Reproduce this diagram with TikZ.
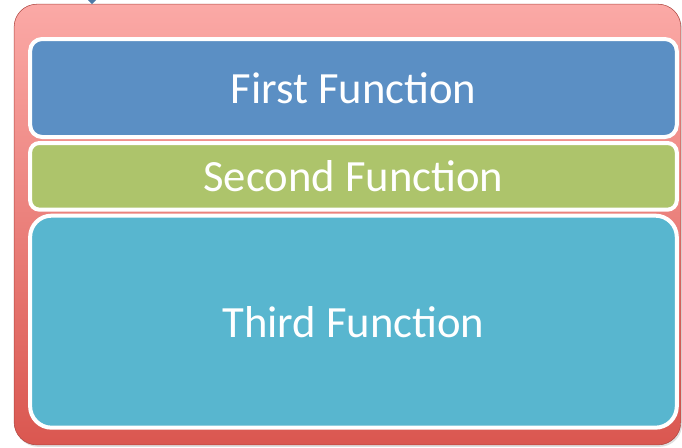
\documentclass[tikz,border=0pt]{standalone}
\usepackage{fontspec}
\setmainfont{Carlito}
\usetikzlibrary{positioning,shadows}
\definecolor{rosu}{HTML}{FBA9A6}
\definecolor{rosuinchis}{HTML}{DA5750}
\definecolor{albastru}{HTML}{5B8FC4}
\definecolor{verde}{HTML}{ADC46B}
\definecolor{turcoaz}{HTML}{58B6CF}
\tikzset{
  cadru/.style  = {rounded corners=17pt, top color=rosu, bottom color=rosuinchis,
                   draw=rosuinchis!80!black, line width=0.4pt,
                   drop shadow={opacity=0.25, shadow xshift=1pt, shadow yshift=-1.5pt}},
  functie/.style = {draw=white, line width=3pt, rounded corners=9pt,
                    minimum width=485pt, text=white, font=\fontsize{33.5}{36}\selectfont,
                    drop shadow={opacity=0.2, shadow xshift=0pt, shadow yshift=-1pt}}
}

\begin{document}
\begin{tikzpicture}[node distance=1.5pt]
        \useasboundingbox (0,0) rectangle (511.5pt,-335.25pt);

        \node[cadru, minimum width=500pt, minimum height=330.5pt] (cadru) at (260.6pt,-168.4pt) {};

        % varful sagetii de deasupra
        \fill[albastru!85!black] (66pt,0pt) -- (72pt,0pt) -- (69pt,-3pt) -- cycle;

        \node[functie, fill=albastru, minimum height=73.5pt] (f1) at (265.1pt,-66pt) {First Function};
        \node[functie, fill=verde, minimum height=50pt, rounded corners=7pt, below=of f1] (f2) {Second Function};
        \node[functie, fill=turcoaz, minimum height=159pt, rounded corners=16pt, below=of f2] (f3) {Third Function};
    \end{tikzpicture}
\end{document}
